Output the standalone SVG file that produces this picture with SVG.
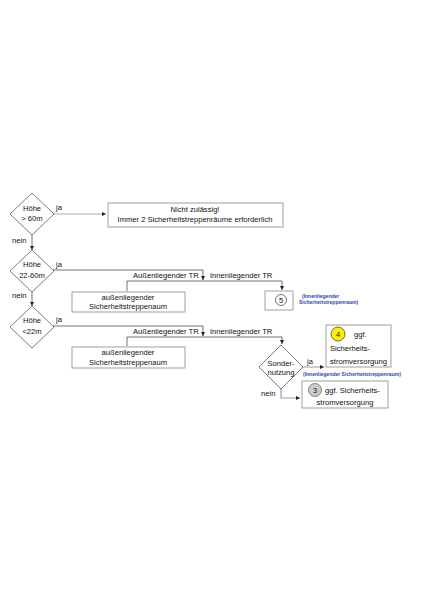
<svg xmlns="http://www.w3.org/2000/svg" width="425" height="601" viewBox="0 0 425 601">
<defs>
<marker id="ah" viewBox="0 0 6 6" refX="6" refY="3" markerWidth="4" markerHeight="4" orient="auto" markerUnits="userSpaceOnUse"><path d="M0,0 L6,3 L0,6 z" fill="#222"/></marker>
</defs>
<style>
text{font-family:"Liberation Sans",Arial,sans-serif;font-size:7.6px;fill:#111}
.c{text-anchor:middle}
.box{fill:#fff;stroke:#888;stroke-width:0.8}
.dia{fill:#fff;stroke:#444;stroke-width:0.7}
.ln{fill:none;stroke:#333;stroke-width:0.7}
.lg{fill:none;stroke:#aaa;stroke-width:1.2}
.blue{fill:#2a48b0;font-size:5px;font-weight:bold}
</style>
<rect width="425" height="601" fill="#fff"/>
<g id="connectors">
<path class="lg" d="M53,214 H106" marker-end="url(#ah)"/>
<path class="ln" d="M32,235 V250" marker-end="url(#ah)"/>
<path class="ln" d="M32,292 V306" marker-end="url(#ah)"/>
<path class="ln" d="M53,270 H203 V280" marker-end="url(#ah)"/>
<path class="ln" d="M127,291 V281 H282 V290" marker-end="url(#ah)"/>
<path class="ln" d="M53,326 H203 V336" marker-end="url(#ah)"/>
<path class="ln" d="M127,346 V337 H282 V344" marker-end="url(#ah)"/>
<path class="lg" d="M302,367 H324" marker-end="url(#ah)"/>
<path fill="none" stroke="#5060c0" stroke-width="0.8" d="M281,388 V398"/>
<path class="lg" d="M281,398 H300" marker-end="url(#ah)"/>
<text x="56" y="210">ja</text>
<text x="12" y="243">nein</text>
<text x="56" y="267">ja</text>
<text x="12" y="298">nein</text>
<text x="56" y="322">ja</text>
<text x="133" y="278">Außenliegender TR</text>
<text x="210" y="278">Innenliegender TR</text>
<text x="133" y="334">Außenliegender TR</text>
<text x="210" y="334">Innenliegender TR</text>
<text x="307" y="364">ja</text>
<text x="261" y="396">nein</text>
</g>
<g id="d1">
<path class="dia" d="M32,193 L54,214 L32,235 L10,214 Z"/>
<text class="c" x="32" y="211">Höhe</text>
<text class="c" x="32" y="221">&gt; 60m</text>
</g>
<g id="b1">
<rect class="box" x="108" y="203" width="175" height="24"/>
<text class="c" x="195" y="212">Nicht zulässig!</text>
<text class="c" x="195" y="222">Immer 2 Sicherheitstreppenräume erforderlich</text>
</g>
<g id="d2">
<path class="dia" d="M32,250 L54,271 L32,292 L10,271 Z"/>
<text class="c" x="32" y="267">Höhe</text>
<text class="c" x="32" y="278">22-60m</text>
</g>
<g id="b2">
<rect class="box" x="72" y="292" width="113" height="20"/>
<text class="c" x="128" y="300">außenliegender</text>
<text class="c" x="128" y="309">Sicherheitstreppenaum</text>
</g>
<g id="b5">
<rect class="box" x="265" y="291" width="28" height="19"/>
<circle cx="281" cy="300" r="5.5" fill="#fff" stroke="#333" stroke-width="0.7"/>
<text class="c" x="281" y="302.8">5</text>
<text class="blue" x="302" y="298">(Innenliegender</text>
<text class="blue" x="299" y="304">Sicherheitstreppenraum)</text>
</g>
<g id="d3">
<path class="dia" d="M32,306 L54,327 L32,348 L10,327 Z"/>
<text class="c" x="32" y="323">Höhe</text>
<text class="c" x="32" y="334">&lt;22m</text>
</g>
<g id="b3">
<rect class="box" x="72" y="347" width="113" height="21"/>
<text class="c" x="128" y="355">außenliegender</text>
<text class="c" x="128" y="365">Sicherheitstreppenaum</text>
</g>
<g id="d4">
<path class="dia" d="M281,345 L303,367 L281,389 L259,367 Z"/>
<text class="c" x="281" y="366">Sonder-</text>
<text class="c" x="281" y="375">nutzung</text>
</g>
<g id="b4">
<rect class="box" x="326" y="325" width="65" height="42"/>
<circle cx="338" cy="334" r="7" fill="#ffee00" stroke="#333" stroke-width="0.7"/>
<text class="c" x="338" y="337">4</text>
<text x="354" y="337">ggf.</text>
<text x="330" y="351">Sicherheits-</text>
<text x="330" y="364">stromversorgung</text>
<text class="blue" x="303" y="376">(Innenliegender Sicherheitstreppenraum)</text>
</g>
<g id="b6">
<rect class="box" x="302" y="381" width="86" height="27"/>
<circle cx="315" cy="390" r="6.5" fill="#ccc" stroke="#555" stroke-width="0.7"/>
<text class="c" x="315" y="393">3</text>
<text x="325" y="393">ggf. Sicherheits-</text>
<text class="c" x="345" y="405">stromversorgung</text>
</g>
</svg>
